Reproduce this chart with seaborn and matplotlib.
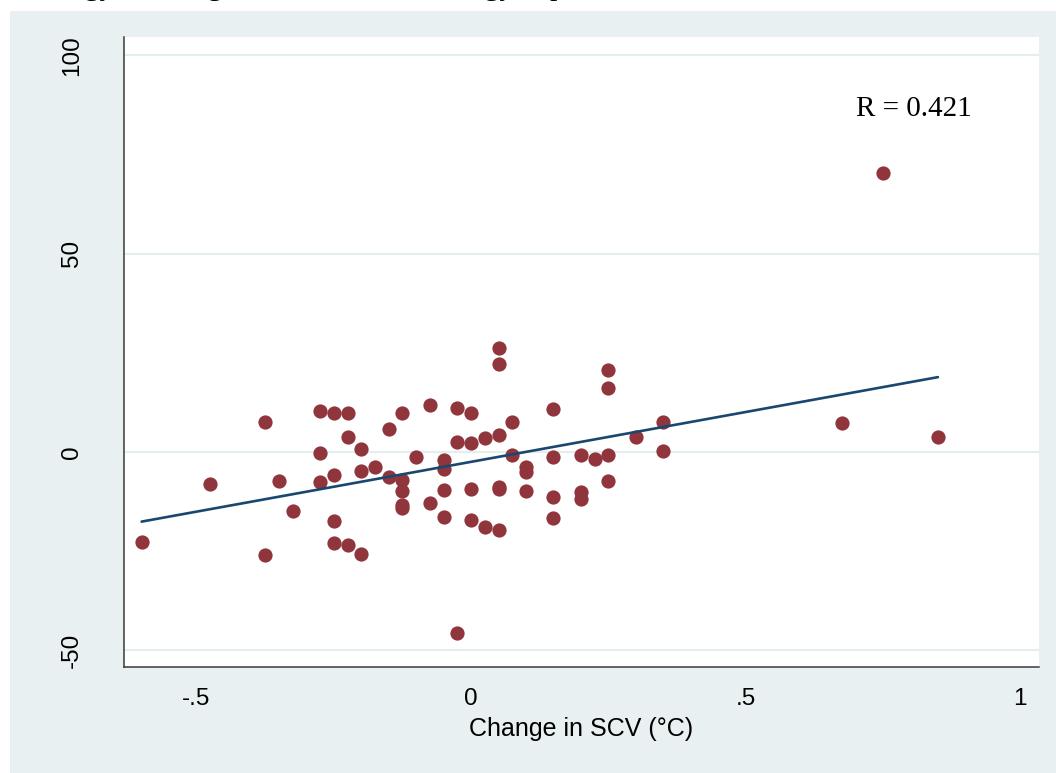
import numpy as np
import pandas as pd
import matplotlib
matplotlib.use("Agg")
import matplotlib.pyplot as plt
from matplotlib.patches import Rectangle
import seaborn as sns

# Change in SCV temperature (°C) and the matching change on the y scale
scv_change = [
    -0.6, -0.475, -0.375, -0.375, -0.35, -0.325,
    -0.275, -0.275, -0.275,
    -0.25, -0.25, -0.25, -0.25,
    -0.225, -0.225, -0.225,
    -0.2, -0.2, -0.2,
    -0.175, -0.15, -0.15,
    -0.125, -0.125, -0.125, -0.125, -0.125,
    -0.1, -0.075, -0.075,
    -0.05, -0.05, -0.05, -0.05,
    -0.025, -0.025, -0.025,
    0.0, 0.0, 0.0, 0.0,
    0.025, 0.025,
    0.05, 0.05, 0.05, 0.05, 0.05, 0.05,
    0.075, 0.075,
    0.1, 0.1, 0.1,
    0.15, 0.15, 0.15, 0.15,
    0.2, 0.2, 0.2, 0.225,
    0.25, 0.25, 0.25, 0.25,
    0.3, 0.35, 0.35,
    0.675, 0.75, 0.85,
]
y_change = [
    -22.7, -8.0, 7.6, -26.0, -7.3, -15.0,
    10.3, -0.2, -7.5,
    9.7, -5.9, -17.4, -22.9,
    9.7, 3.8, -23.5,
    0.6, -4.8, -25.9,
    -3.8, 5.7, -6.3,
    9.9, -7.1, -9.8, -13.4, -14.1,
    -1.3, 11.8, -12.9,
    -2.1, -4.4, -9.7, -16.5,
    11.1, 2.4, -45.8,
    9.9, 2.1, -9.5, -17.2,
    3.4, -18.9,
    26.1, 22.1, 4.2, -8.8, -9.5, -19.7,
    7.4, -0.7,
    -3.8, -5.0, -9.8,
    10.9, -1.3, -11.3, -16.6,
    -0.8, -10.1, -12.0, -1.8,
    20.6, 16.1, -0.8, -7.3,
    3.8, 7.6, 0.2,
    7.3, 70.3, 3.8,
]
x_ticks = [-0.5, 0, 0.5, 1]
x_tick_labels = ["-.5", "0", ".5", "1"]
y_ticks = [-50, 0, 50, 100]
y_tick_labels = ["-50", "0", "50", "100"]
r_label = "R = 0.421"
x_title = "Change in SCV (°C)"
caption_line = "in energy at change in SCV and the energy expenditure"

df = pd.DataFrame({"scv": scv_change, "dy": y_change})

BG = "#e9f0f2"
GRID = "#e5edf0"
MAROON = "#90353b"
NAVY = "#1a476f"
AXIS = "#3a3a3a"

sns.set_style("white")
plt.rcParams["font.family"] = ["Liberation Sans", "DejaVu Sans"]

fig = plt.figure(figsize=(10.56, 7.73), dpi=100)
fig.patch.set_facecolor("white")
# tinted graph region below the white strip at the top
fig.patches.append(Rectangle((10 / 1056, 0), 1 - 10 / 1056, 1 - 11 / 773,
                             transform=fig.transFigure, facecolor=BG,
                             edgecolor="none", zorder=-5))

ax = fig.add_axes([124 / 1056, 1 - 666.7 / 773, (1039 - 124) / 1056, (666.7 - 37) / 773])
ax.set_zorder(2)
ax.set_facecolor("white")

for yv in y_ticks:
    ax.axhline(yv, color=GRID, lw=1.6, zorder=0)

sns.scatterplot(data=df, x="scv", y="dy", ax=ax, color=MAROON, s=105,
                linewidth=0, zorder=3, legend=False)
sns.regplot(data=df, x="scv", y="dy", ax=ax, scatter=False, ci=None,
            truncate=True, line_kws={"color": NAVY, "lw": 1.9, "zorder": 4})

ax.set_xlim(-0.632, 1.034)
ax.set_ylim(-54.2, 104.6)
ax.set_xticks(x_ticks)
ax.set_xticklabels(x_tick_labels)
ax.set_yticks(y_ticks)
ax.set_yticklabels(y_tick_labels, rotation=90, va="center")
ax.tick_params(axis="both", direction="out", length=7.5, width=1.0, color=AXIS,
               labelsize=17.5, labelcolor="black")
ax.tick_params(axis="y", pad=22)
ax.tick_params(axis="x", pad=8)
ax.set_xlabel(x_title, fontsize=18, labelpad=5, color="black")
ax.set_ylabel("")

for side in ("top", "right"):
    ax.spines[side].set_visible(False)
for side in ("left", "bottom"):
    ax.spines[side].set_color(AXIS)
    ax.spines[side].set_linewidth(1.1)

ax.text(0.807, 84.7, r_label, ha="center", va="baseline", fontsize=21,
        family=["Liberation Serif", "DejaVu Serif"], color="black")

# previous caption line, only its descenders fall inside the page
fig.text(3 / 1056, 1 + 5 / 773, caption_line, ha="left", va="baseline",
         fontsize=21.5, family=["Liberation Serif", "DejaVu Serif"], color="black")

fig.savefig("out.png", dpi=100)
